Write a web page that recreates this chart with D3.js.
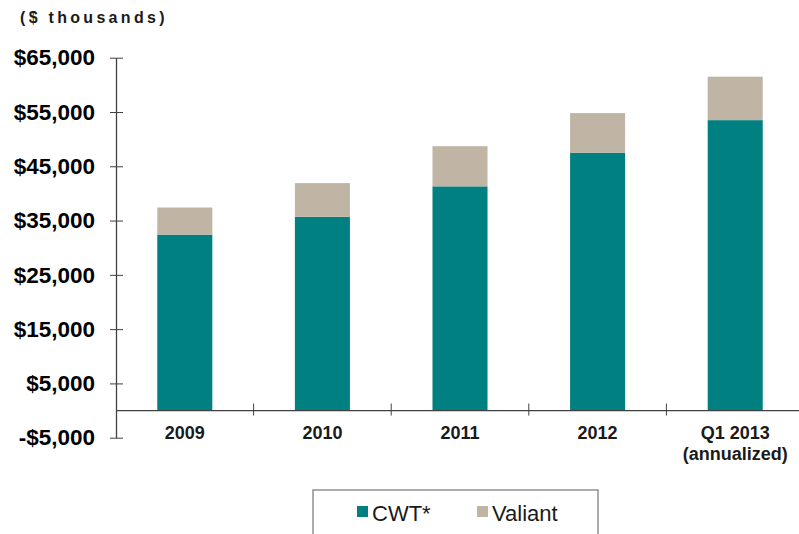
<!DOCTYPE html>
<html>
<head>
<meta charset="utf-8">
<script src="https://cdn.jsdelivr.net/npm/d3@7"></script>
<style>
  body { margin: 0; background: #fff; }
  text { font-family: "Liberation Sans", Arial, sans-serif; }
</style>
</head>
<body>
<div id="chart"></div>
<script>
// Data ($ thousands)
var categories = ["2009", "2010", "2011", "2012", "Q1 2013"];
var cwt = [32400, 35700, 41300, 47500, 53500];
var valiant = [5000, 6200, 7400, 7300, 8000];
var seriesNames = ["CWT*", "Valiant"];
var yTicks = [-5000, 5000, 15000, 25000, 35000, 45000, 55000, 65000];

var svgWidth = 799;
var svgHeight = 534;

var colors = { "CWT*": "#008080", "Valiant": "#c0b4a4" };

var svg = d3.select("#chart")
  .append("svg")
  .attr("width", svgWidth)
  .attr("height", svgHeight);

// scales
var xScale = d3.scaleBand()
  .domain(categories)
  .range([116, 804])
  .paddingInner(0.6)
  .paddingOuter(0.3);

var yScale = d3.scaleLinear()
  .domain([-5000, 65000])
  .range([437.7, 57.7]);

// stack the two series
var rows = categories.map(function(c, i) {
  return { cat: c, "CWT*": cwt[i], "Valiant": valiant[i] };
});
var stacked = d3.stack().keys(seriesNames)(rows);

svg.append("g")
  .selectAll("g")
  .data(stacked)
  .enter()
  .append("g")
  .attr("fill", d => colors[d.key])
  .selectAll("rect")
  .data(d => d)
  .enter()
  .append("rect")
  .attr("x", d => xScale(d.data.cat))
  .attr("width", xScale.bandwidth())
  .attr("y", d => yScale(d[1]))
  .attr("height", d => yScale(d[0]) - yScale(d[1]));

// left axis
var fmt = d3.format(",");
var leftAxis = d3.axisLeft(yScale)
  .tickValues(yTicks)
  .tickSizeInner(6)
  .tickSizeOuter(0)
  .tickPadding(15)
  .tickFormat(d => (d < 0 ? "-" : "") + "$" + fmt(Math.abs(d)));

var yAxisG = svg.append("g")
  .attr("transform", "translate(116,0)")
  .call(leftAxis);
yAxisG.select(".domain").attr("stroke", "#404040").attr("stroke-width", 1.3);
yAxisG.selectAll(".tick line")
  .attr("x1", -6).attr("x2", 7)
  .attr("stroke", "#404040");
yAxisG.selectAll(".tick text")
  .attr("font-family", "Liberation Sans, Arial, sans-serif")
  .attr("font-size", "22.5px")
  .attr("font-weight", "bold")
  .attr("fill", "#000");

// x axis line at zero with ticks between categories
var y0 = yScale(0);
svg.append("line")
  .attr("x1", 116).attr("x2", svgWidth)
  .attr("y1", y0).attr("y2", y0)
  .attr("stroke", "#404040")
  .attr("stroke-width", 1.3);

svg.selectAll(".xtick")
  .data(categories.slice(1))
  .enter()
  .append("line")
  .attr("class", "xtick")
  .attr("x1", d => xScale(d) - xScale.bandwidth() * 0.75)
  .attr("x2", d => xScale(d) - xScale.bandwidth() * 0.75)
  .attr("y1", y0 - 7)
  .attr("y2", y0 + 5)
  .attr("stroke", "#404040");

// category labels
svg.selectAll(".xlabel")
  .data(categories)
  .enter()
  .append("text")
  .attr("class", "xlabel")
  .attr("x", d => xScale(d) + xScale.bandwidth() / 2)
  .attr("y", y0 + 28)
  .attr("text-anchor", "middle")
  .attr("font-size", "18px")
  .attr("font-weight", "bold")
  .attr("fill", "#1a1a1a")
  .text(d => d);

svg.append("text")
  .attr("x", xScale("Q1 2013") + xScale.bandwidth() / 2)
  .attr("y", y0 + 49)
  .attr("text-anchor", "middle")
  .attr("font-size", "18px")
  .attr("font-weight", "bold")
  .attr("fill", "#1a1a1a")
  .text("(annualized)");

// units title
svg.append("text")
  .attr("x", 20)
  .attr("y", 22.5)
  .attr("font-size", "16px")
  .attr("font-weight", "bold")
  .attr("letter-spacing", "3.3px")
  .attr("fill", "#1a1a1a")
  .text("($ thousands)");

// legend
svg.append("rect")
  .attr("x", 313)
  .attr("y", 490)
  .attr("width", 285)
  .attr("height", 60)
  .attr("fill", "none")
  .attr("stroke", "#7f7f7f")
  .attr("stroke-width", 1.3);

var legendX = [357, 477];
var legend = svg.selectAll(".legend")
  .data(seriesNames)
  .enter()
  .append("g")
  .attr("class", "legend")
  .attr("transform", (d, i) => `translate(${legendX[i]}, 506)`);

legend.append("rect")
  .attr("width", 11)
  .attr("height", 11)
  .attr("fill", d => colors[d]);

legend.append("text")
  .attr("x", 15)
  .attr("y", 15)
  .attr("font-size", "22px")
  .attr("fill", "#1a1a1a")
  .text(d => d);
</script>
</body>
</html>
